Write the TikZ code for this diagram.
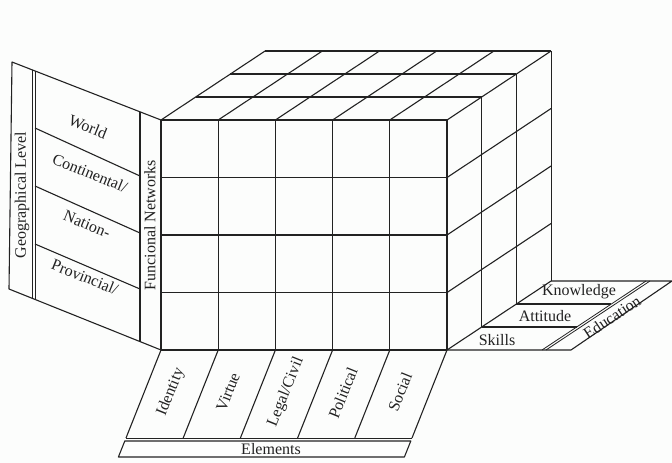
\documentclass[tikz,border=0pt]{standalone}
\usepackage{fontspec}
\setmainfont{Liberation Serif}
\usepackage{tikz}
\usetikzlibrary{calc}
\definecolor{inkx}{HTML}{222222}
\definecolor{paperx}{HTML}{FCFDFC}
\tikzset{
  ln/.style={draw=inkx,line width=1.1pt,line join=round},
  thin ln/.style={draw=inkx,line width=0.8pt},
  lbl/.style={font=\fontsize{16}{18}\selectfont,text=inkx,inner sep=1pt}
}
\begin{document}
\begin{tikzpicture}[x=1pt,y=-1pt]
\useasboundingbox[fill=paperx] (0,0) rectangle (672,463);
% front face of the cube
\foreach \i in {0,...,5} \draw[ln] (161+57.2*\i,120)--(161+57.2*\i,350);
\foreach \j in {0,...,4} \draw[ln] (161,120+57.5*\j)--(447,120+57.5*\j);
% top face
\foreach \k in {1,2,3} \draw[ln] (161+34.7*\k,120-23*\k)--(447+34.7*\k,120-23*\k);
\foreach \i in {0,...,5} \draw[ln] (161+57.2*\i,120)--++(104.1,-69);
% right face
\foreach \k in {1,2,3} \draw[ln] (447+34.7*\k,120-23*\k)--(447+34.7*\k,350-23*\k);
\foreach \j in {1,...,4} \draw[ln] (447,120+57.5*\j)--++(104.1,-69);
% right floor: education
\draw[ln] (447,350)--(571,350)--(672,281)--(551,281);
\foreach \k in {1,2} \draw[ln] (447+34.7*\k,350-23*\k)--(542+34.7*\k,350-23*\k);
\draw[thin ln] (542,350)--(646,281);
\draw[thin ln] (546,350)--(650,281);
% left wall: geographical level
\draw[ln] (161,120)--(12,62)--(9,289)--(161,350);
\draw[thin ln] (32,69.8)--(32,298.2);
\draw[thin ln] (35,71)--(35,299.4);
\draw[ln] (35,128)--(140,176);
\draw[ln] (35,186)--(140,233);
\draw[ln] (35,244)--(140,289);
\draw[ln] (140,111.8)--(140,341.6);
% front floor: elements
\foreach \i in {0,...,5} \draw[ln] (161+57.2*\i,350)--++(-35,88);
\draw[thin ln] (126,438)--(412,438);
\draw[ln] (124.8,441)--(118.4,457)--(404.4,457)--(410.8,441)--cycle;
% labels
\node[lbl,rotate=90] (geo) at (22,195) {Geographical Level};
\node[lbl,rotate=90] (fnet) at (150,225) {Funcional Networks};
\node[lbl,rotate=-22] (world) at (88,127) {World};
\node[lbl,rotate=-22] (cont) at (90,173) {Continental/};
\node[lbl,rotate=-22] (nation) at (87,224) {Nation-};
\node[lbl,rotate=-22] (prov) at (85,277) {Provincial/};
\node[lbl,rotate=68] (ident) at (171,392) {Identity};
\node[lbl,rotate=68] (virt) at (228,392) {Virtue};
\node[lbl,rotate=68] (legal) at (286,392) {Legal/Civil};
\node[lbl,rotate=68] (polit) at (343,393) {Political};
\node[lbl,rotate=68] (soc) at (400,392) {Social};
\node[lbl] (elem) at (271,449) {Elements};
\node[lbl] (know) at (579,292) {Knowledge};
\node[lbl] (att) at (545,316) {Attitude};
\node[lbl] (skill) at (497,340) {Skills};
\node[lbl,rotate=33.5] (edu) at (612,317) {Education};
\end{tikzpicture}
\end{document}
